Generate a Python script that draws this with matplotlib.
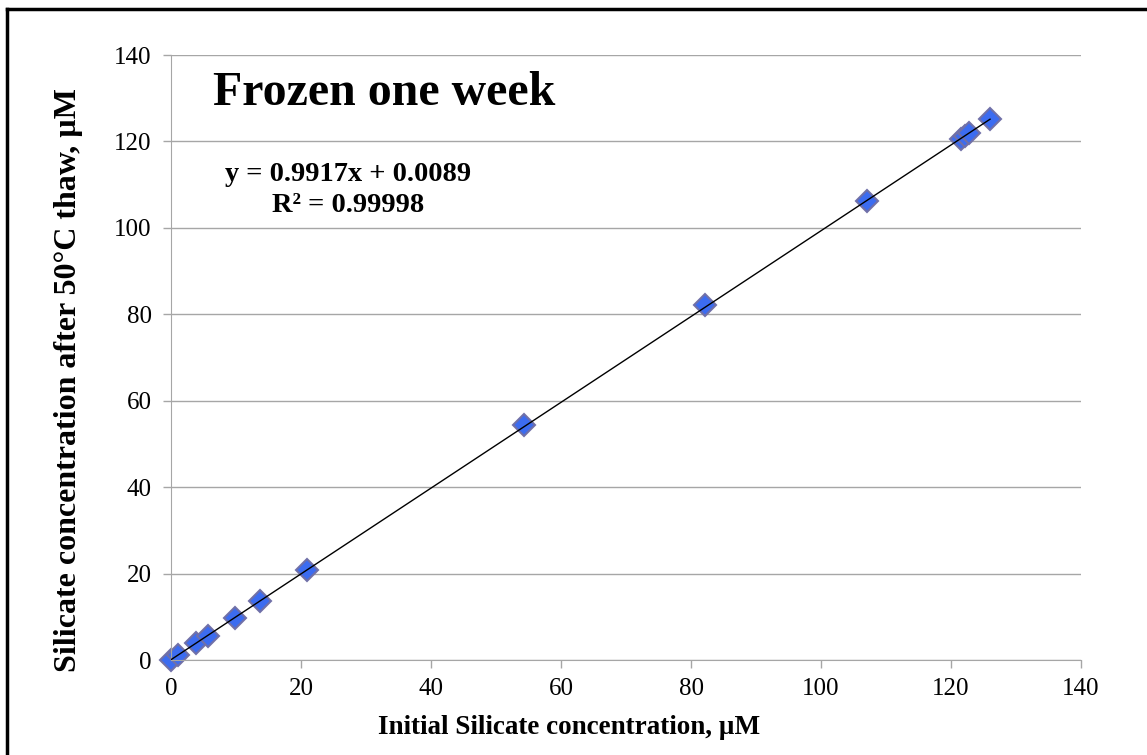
import numpy as np
import matplotlib.pyplot as plt
from matplotlib.lines import Line2D

plt.rc('font', family='Liberation Serif')

# data
initial = [0.0, 1.1, 3.9, 5.7, 9.9, 13.7, 20.9, 54.3, 82.1, 107.0,
           121.5, 122.2, 122.8, 126.0]
thawed = [0.0, 1.2, 4.0, 5.5, 9.8, 13.7, 20.8, 54.3, 82.1, 106.2,
          120.6, 121.2, 121.9, 125.1]
ticks = [0, 20, 40, 60, 80, 100, 120, 140]
title = 'Frozen one week'
eq_text = 'y = 0.9917x + 0.0089\nR\u00b2 = 0.99998'
grey = '#A6A6A6'

fig = plt.figure(figsize=(11.47, 7.55), dpi=100)
ax = fig.add_axes([0.1491, 0.1258, 0.7934, 0.8013])

# linear trendline
slope, icpt = np.polyfit(initial, thawed, 1)
xl = np.array([0, max(initial)])
ax.plot(xl, slope * xl + icpt, color='black', lw=1, zorder=3)

ax.plot(initial, thawed, 'D', ms=11, mfc='#3C6CF0', mec='#7070A8',
        mew=1.5, zorder=2, clip_on=False)

ax.set_xlim(0, 140)
ax.set_ylim(0, 140)
ax.set_xticks(ticks)
ax.set_yticks(ticks)
ax.grid(axis='y', color=grey, lw=1)
ax.set_axisbelow(True)
for s in ['top', 'right']:
  ax.spines[s].set_visible(False)
for s in ['left', 'bottom']:
  ax.spines[s].set_color(grey)
ax.tick_params(axis='both', labelsize=18, color=grey, length=6, width=1)
ax.tick_params(axis='y', pad=8)
ax.tick_params(axis='x', pad=7)

fig.text(569 / 1147, 1 - 728 / 755, 'Initial Silicate concentration, \u00b5M',
         fontsize=19.5, fontweight='bold', ha='center', va='center')
fig.text(69 / 1147, 1 - 380 / 755,
         'Silicate concentration after 50\u00b0C thaw, \u00b5M',
         fontsize=23, fontweight='bold', ha='center', va='center',
         rotation=90)

ax.text(6.5, 128.5, title, fontsize=34.5, fontweight='bold', va='baseline')
ax.text(27.2, 108.8, eq_text, fontsize=20.5, fontweight='bold',
        ha='center', va='center', multialignment='center', linespacing=1.35)

# outer frame (only left and top edges visible)
fig.add_artist(Line2D([0.0061, 0.0061], [0, 0.9887], color='black', lw=2.5,
                      transform=fig.transFigure))
fig.add_artist(Line2D([0.0061, 1], [0.9887, 0.9887], color='black', lw=2.5,
                      transform=fig.transFigure))

fig.savefig('out.png', dpi=100)
